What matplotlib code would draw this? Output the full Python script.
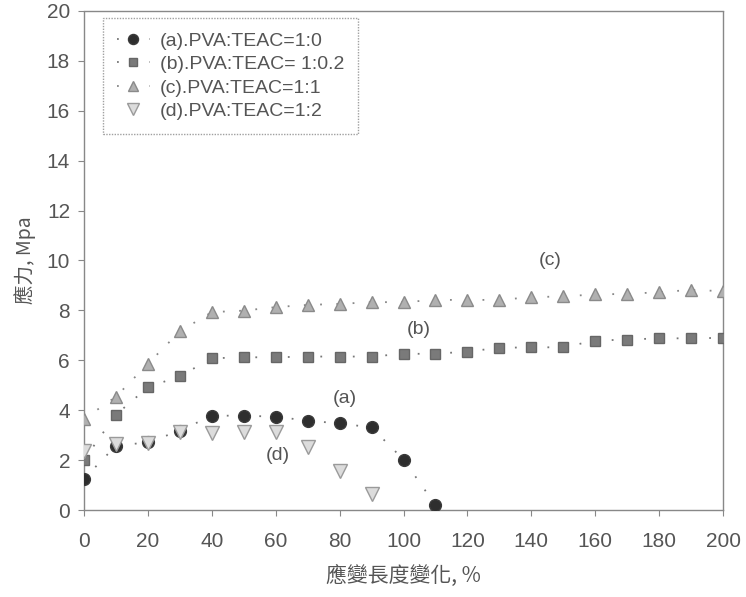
import numpy as np
import matplotlib
matplotlib.use("Agg")
import matplotlib.pyplot as plt

plt.rcParams['font.family'] = ['Liberation Sans', 'Noto Sans CJK TC', 'DejaVu Sans']

# strain (%) for each series
x_a = [0, 10, 20, 30, 40, 50, 60, 70, 80, 90, 100, 110]
x_b = list(range(0, 201, 10))
x_c = list(range(0, 201, 10))
x_d = [0, 10, 20, 30, 40, 50, 60, 70, 80, 90]

# stress (MPa)
y_a = [1.25, 2.58, 2.71, 3.18, 3.78, 3.78, 3.74, 3.58, 3.47, 3.31, 2.02, 0.2]
y_b = [2.02, 3.82, 4.92, 5.36, 6.08, 6.12, 6.12, 6.15, 6.15, 6.15, 6.26,
       6.26, 6.35, 6.5, 6.52, 6.52, 6.79, 6.83, 6.88, 6.88, 6.9]
y_c = [3.65, 4.54, 5.86, 7.16, 7.93, 7.99, 8.13, 8.22, 8.26, 8.33, 8.33,
       8.42, 8.42, 8.42, 8.53, 8.56, 8.64, 8.66, 8.73, 8.82, 8.77]
y_d = [2.38, 2.65, 2.68, 3.11, 3.07, 3.11, 3.11, 2.51, 1.58, 0.64]

labels = ["(a).PVA:TEAC=1:0", "(b).PVA:TEAC= 1:0.2",
          "(c).PVA:TEAC=1:1", "(d).PVA:TEAC=1:2"]

text_col = "#555555"
dots = (0, (1, 8))

fig = plt.figure(figsize=(7.46, 5.97), dpi=100)
ax = fig.add_axes([0.1126, 0.1457, 0.8566, 0.836])

ax.plot(x_a, y_a, ls=dots, color="#777777", lw=1.3, marker='o', ms=8.5,
        mfc="#2e2e2e", mec="#3a3a3a", label=labels[0], zorder=4)
ax.plot(x_b, y_b, ls=dots, color="#777777", lw=1.3, marker='s', ms=7,
        mfc="#7a7a7a", mec="#666666", label=labels[1], zorder=3)
ax.plot(x_c, y_c, ls=dots, color="#888888", lw=1.3, marker='^', ms=9,
        mfc="#b0b0b0", mec="#8a8a8a", label=labels[2], zorder=3)
ax.plot(x_d, y_d, ls='none', marker='v', ms=9.5,
        mfc="#dcdcdc", mec="#9a9a9a", label=labels[3], zorder=5)

for s, (tx, ty) in zip(["(a)", "(b)", "(c)", "(d)"],
                       [(81.7, 4.46), (104.8, 7.23), (146, 10.0), (60.7, 2.18)]):
    ax.text(tx, ty, s, fontsize=14, color=text_col, ha='center', va='center')

ax.set_xlim(0, 200)
ax.set_ylim(0, 20)
ax.set_xticks(np.arange(0, 201, 20))
ax.set_yticks(np.arange(0, 21, 2))
ax.tick_params(colors="#888888", labelcolor=text_col, labelsize=15,
               direction='out', length=4, width=0.8)
ax.tick_params(axis='x', pad=12)
ax.tick_params(axis='y', pad=6)
for sp in ax.spines.values():
    sp.set_linestyle((0, (1, 1)))
    sp.set_color("#888888")
    sp.set_linewidth(1.0)

ax.set_xlabel("應變長度變化, %", fontsize=15, color=text_col,
              family=['Noto Sans CJK TC', 'DejaVu Sans'], labelpad=10)
ax.set_ylabel("應力, Mpa", fontsize=14, color=text_col,
              family=['Noto Sans CJK TC', 'DejaVu Sans'], labelpad=8)

leg = ax.legend(loc='upper left', bbox_to_anchor=(0.03, 0.985), borderaxespad=0,
                fontsize=14, frameon=True, fancybox=False, handlelength=1.7,
                labelspacing=0.3, borderpad=0.7, handletextpad=0.5,
                markerscale=0.85)
leg.get_frame().set_edgecolor("#888888")
leg.get_frame().set_linestyle((0, (1, 1)))
leg.get_frame().set_linewidth(1.0)
for t in leg.get_texts():
    t.set_color(text_col)

fig.savefig("out.png", dpi=100)
